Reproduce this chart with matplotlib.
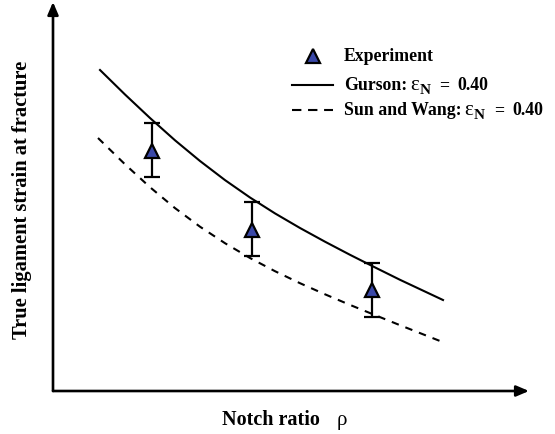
import matplotlib
matplotlib.use("Agg")
import matplotlib.pyplot as plt
from matplotlib.lines import Line2D

# Experimental fracture strain versus notch ratio (arbitrary units, no ticks drawn)
notch_exp = [0.99, 1.99, 3.19]
strain_exp = [2.405, 1.615, 1.01]
err_low = [0.265, 0.265, 0.273]
err_high = [0.275, 0.272, 0.273]

# Gurson model prediction
notch_gurson = [0.47, 0.72, 0.97, 1.22, 1.47, 1.72, 1.97, 2.22, 2.47, 2.72,
                2.97, 3.22, 3.47, 3.90]
strain_gurson = [3.21, 2.965, 2.73, 2.507, 2.30, 2.109, 1.935, 1.776, 1.63,
                 1.493, 1.362, 1.236, 1.112, 0.91]

# Sun and Wang model prediction
notch_sw = [0.45, 0.72, 0.97, 1.22, 1.47, 1.72, 1.97, 2.22, 2.47, 2.72,
            2.97, 3.22, 3.47, 3.87]
strain_sw = [2.53, 2.267, 2.038, 1.829, 1.643, 1.478, 1.33, 1.198, 1.078,
             0.967, 0.861, 0.759, 0.658, 0.50]

legend_names = ["Experiment", "Gurson:", "Sun and Wang:"]
eps_value = "0.40"

plt.rcParams["font.family"] = ["Liberation Serif", "DejaVu Serif"]

W, H = 555, 434
fig = plt.figure(figsize=(W / 100, H / 100), dpi=100)
ax = fig.add_axes([53 / W, 43 / H, 476 / W, 389 / H])
ax.set_xlim(0, 4.76)
ax.set_ylim(0, 3.89)
for s in ax.spines.values():
    s.set_visible(False)
ax.set_xticks([])
ax.set_yticks([])
ax.patch.set_alpha(0)

# Axes drawn as arrows
arrow_kw = dict(arrowstyle="-|>,head_length=0.75,head_width=0.32", color="black",
                lw=1.9, mutation_scale=10, shrinkA=0, shrinkB=0)
ax.annotate("", xy=(1, 0), xytext=(0, 0), xycoords="axes fraction",
            textcoords="axes fraction", arrowprops=arrow_kw)
ax.annotate("", xy=(0, 1), xytext=(0, 0), xycoords="axes fraction",
            textcoords="axes fraction", arrowprops=arrow_kw)

dash_curve = (0, (3.6, 3.4))
ax.plot(notch_gurson, strain_gurson, color="black", lw=1.5)
ax.plot(notch_sw, strain_sw, color="black", lw=1.5, linestyle=dash_curve)

marker_kw = dict(linestyle="none", marker="^", markersize=10.5,
                 markerfacecolor="#3a48a8", markeredgecolor="black",
                 markeredgewidth=1.6)
ax.errorbar(notch_exp, strain_exp, yerr=[err_low, err_high], fmt="none",
            ecolor="black", elinewidth=1.6, capsize=5.8, capthick=1.6, zorder=3)
ax.plot(notch_exp, strain_exp, zorder=4, **marker_kw)

# ---- legend, laid out in figure pixels (origin top-left) ----
def fx(px):
    return px / W


def fy(py):
    return 1 - py / H


renderer = fig.canvas.get_renderer()


def text_run(x, y_base, pieces):
    """Place text pieces one after another on a common baseline."""
    for s, size, weight, dy, gap in pieces:
        x += gap
        t = fig.text(fx(x), fy(y_base + dy), s, fontsize=size, fontweight=weight,
                     ha="left", va="baseline")
        x += t.get_window_extent(renderer).width
    return x


leg_x_line = (292, 333)
leg_text_x = 344
row_base = [61, 90, 115]
txt_size = 12.8

fig.add_artist(Line2D([fx(312.5)], [fy(56)], transform=fig.transFigure, **marker_kw))
fig.add_artist(Line2D([fx(leg_x_line[0]), fx(leg_x_line[1])], [fy(84.5)] * 2,
                      transform=fig.transFigure, color="black", lw=1.5))
fig.add_artist(Line2D([fx(leg_x_line[0]), fx(leg_x_line[1])], [fy(109.5)] * 2,
                      transform=fig.transFigure, color="black", lw=1.5,
                      linestyle=(0, (4.5, 3.2))))

text_run(leg_text_x, row_base[0], [(legend_names[0], txt_size, "bold", 0, 0)])
for name, yb in zip(legend_names[1:], row_base[1:]):
    text_run(leg_text_x, yb, [
        (name, txt_size, "bold", 0, 0),
        ("ε", 15, "normal", 0, 3),
        ("N", 11, "bold", 4, 0.5),
        ("=", txt_size, "bold", 0, 9),
        (eps_value, txt_size, "bold", 0, 8),
    ])

# ---- axis titles ----
fig.text(fx(22), fy(200), "True ligament strain at fracture", rotation=90,
         ha="center", va="center", fontsize=14.8, fontweight="bold")
fig.text(fx(222), fy(425), "Notch ratio", ha="left", va="baseline",
         fontsize=14.5, fontweight="bold")
fig.text(fx(337), fy(425), "ρ", ha="left", va="baseline", fontsize=15)

fig.savefig("out.png", dpi=100)
